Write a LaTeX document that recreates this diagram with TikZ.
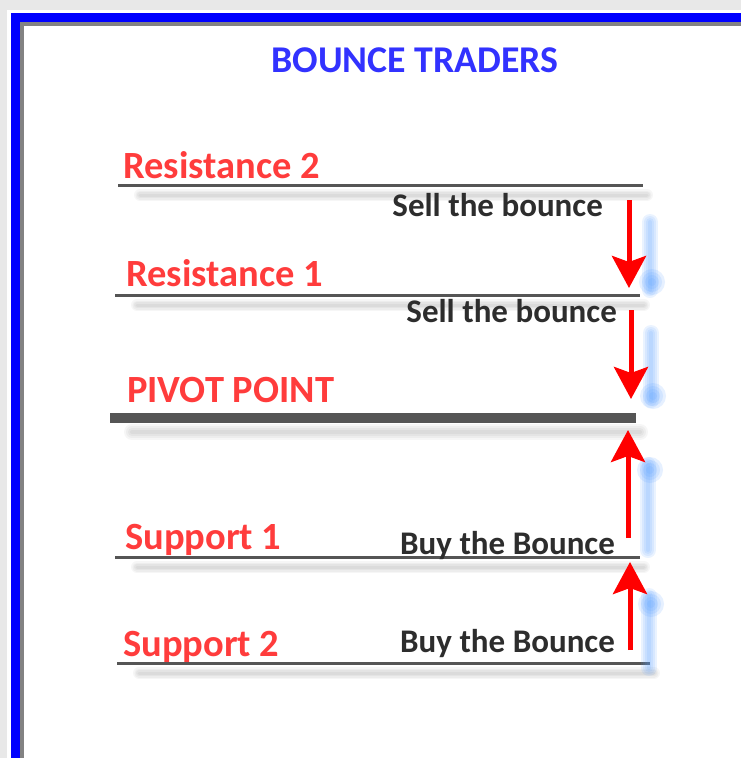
\documentclass[tikz,border=0pt]{standalone}
\usepackage{fontspec}
\setmainfont{Carlito}
\usetikzlibrary{arrows.meta}
\definecolor{pagegray}{RGB}{232,232,232}
\definecolor{framegray}{RGB}{130,130,130}
\definecolor{levelred}{RGB}{255,60,60}
\definecolor{titleblue}{RGB}{50,50,255}
\definecolor{textgray}{RGB}{45,45,45}
\definecolor{linegray}{RGB}{85,85,85}
\definecolor{glowblue}{RGB}{90,160,255}
\begin{document}
\begin{tikzpicture}[x=1pt,y=-1pt,
  level/.style={draw=linegray,line width=3pt},
  levelshadow/.style={draw=black,opacity=0.035,line cap=round},
  lvlname/.style={anchor=base west,inner sep=0pt,text=levelred,font=\fontsize{38.5}{42}\selectfont\bfseries},
  trade/.style={anchor=base east,inner sep=0pt,text=textgray,font=\fontsize{33}{36}\selectfont\bfseries},
  bounce/.style={draw=red,line width=5pt,-{Stealth[length=32pt,width=34pt,inset=6pt]}},
  glow/.style={draw=glowblue,opacity=0.12,line cap=round}]
\useasboundingbox (0,0) rectangle (741,758);
\clip (0,0) rectangle (741,758);
% frame
\fill[pagegray] (0,0) rectangle (741,758);
\fill[white] (7,10) rectangle (790,790);
\draw[framegray,line width=4pt] (22,24) rectangle (790,790);
\draw[blue,line width=9.5pt] (15.5,17.5) rectangle (790,790);
\node[inner sep=0pt,text=titleblue,font=\fontsize{37.8}{40}\selectfont\bfseries] (title) at (415,60) {BOUNCE TRADERS};

% level lines
\coordinate (r2a) at (118,185); \coordinate (r2b) at (643,185);
\coordinate (r1a) at (115,295); \coordinate (r1b) at (640,295);
\coordinate (ppa) at (110,418); \coordinate (ppb) at (636,418);
\coordinate (s1a) at (115,557); \coordinate (s1b) at (640,557);
\coordinate (s2a) at (117,663); \coordinate (s2b) at (650,663);
\foreach \l in {r2,r1,s1,s2}{
  \foreach \w in {3,6,9,12}
    \draw[levelshadow,line width=\w pt] ([shift={(22,10)}]\l a) -- ([shift={(4,10)}]\l b);
  \draw[level] (\l a) -- (\l b);
}
\foreach \w in {4,8,12,16}
  \draw[levelshadow,line width=\w pt] ([shift={(22,14)}]ppa) -- ([shift={(4,14)}]ppb);
\draw[level,line width=10pt] (ppa) -- (ppb);

\node[lvlname] (res2) at (123,178) {Resistance 2};
\node[lvlname] (res1) at (126,286) {Resistance 1};
\node[lvlname] (pivot) at (127,402) {PIVOT POINT};
\node[lvlname] (sup1) at (125,549) {Support 1};
\node[lvlname] (sup2) at (123,656) {Support 2};

\node[trade] (sell2) at (603,216) {Sell the bounce};
\node[trade] (sell1) at (617,322) {Sell the bounce};
\node[trade] (buy1) at (615,554) {Buy the Bounce};
\node[trade] (buy2) at (615,652) {Buy the Bounce};

% bounce arrows
\coordinate (d1a) at (629,200); \coordinate (d1b) at (629,288);
\coordinate (d2a) at (631,310); \coordinate (d2b) at (631,399);
\coordinate (u1a) at (628,538); \coordinate (u1b) at (628,430);
\coordinate (u2a) at (630,650); \coordinate (u2b) at (630,562);
\foreach \ya/\yb/\gx/\yd in {222/290/650/282, 333/400/651/396, 465/550/648/470, 596/668/649/604}{
  \foreach \w in {4,8,12,16}
    \draw[glow,line width=\w pt] (\gx,\ya) -- (\gx,\yb);
  \foreach \r in {4,7,10,13}
    \fill[glowblue,opacity=0.15] (\gx+2,\yd) circle (\r pt);
}
\draw[bounce] (d1a) -- (d1b);
\draw[bounce] (d2a) -- (d2b);
\draw[bounce] (u1a) -- (u1b);
\draw[bounce] (u2a) -- (u2b);
\end{tikzpicture}
\end{document}
